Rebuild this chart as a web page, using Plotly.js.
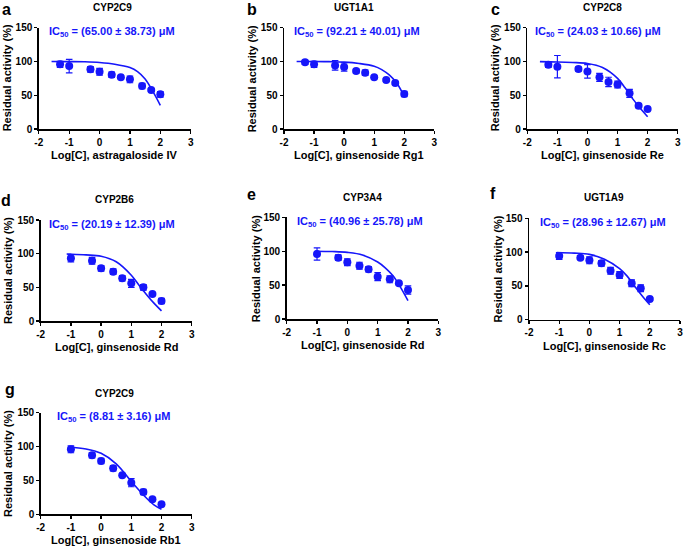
<!DOCTYPE html>
<html>
<head>
<meta charset="utf-8">
<script src="https://cdn.plot.ly/plotly-3.0.1.min.js"></script>
<style>html,body{margin:0;padding:0;background:#fff;}#chart{width:685px;height:549px;}</style>
</head>
<body>
<div id="chart"></div>
<script>
// ---------- data ----------
const xTickVals = [-2, -1, 0, 1, 2, 3];
const xTickText = ['-2', '-1', '0', '1', '2', '3'];
const yTickVals = [0, 50, 100, 150];
const yTickText = ['0', '50', '100', '150'];

const panelLetters = ['a', 'b', 'c', 'd', 'e', 'f', 'g'];
const enzymes = ['CYP2C9', 'UGT1A1', 'CYP2C8', 'CYP2B6', 'CYP3A4', 'UGT1A9', 'CYP2C9'];
const compounds = ['astragaloside IV', 'ginsenoside Rg1', 'ginsenoside Re', 'ginsenoside Rd', 'ginsenoside Rd', 'ginsenoside Rc', 'ginsenoside Rb1'];
const ic50Labels = ['(65.00 ± 38.73)', '(92.21 ± 40.01)', '(24.03 ± 10.66)', '(20.19 ± 12.39)', '(40.96 ± 25.78)', '(28.96 ± 12.67)', '(8.81 ± 3.16)'];

const logC10 = [-1.3, -1, -0.3, 0, 0.4, 0.7, 1, 1.4, 1.7, 2];
const logC9 = [-1, -0.3, 0, 0.4, 0.7, 1, 1.4, 1.7, 2];

const aY = [95.7, 93.2, 88.3, 84.9, 80.4, 76.5, 73.5, 63.6, 57.7, 51.3];
const aErr = [4.4, 10, 4, 5, 4, 2, 5, 4, 2, 4];
const aCurveX = [-1.58, -1, -0.5, 0, 0.5, 1, 1.25, 1.5, 1.75, 2];
const aCurveY = [100, 99.8, 99.5, 98.5, 96, 91, 85, 74, 56, 35];

const bY = [98.7, 95.7, 94.2, 91.8, 85.8, 83.4, 76.5, 72.5, 68, 51.8];
const bErr = [3, 4.4, 7, 6, 3, 4, 2, 2, 2, 4];
const bCurveX = [-1.58, -1, -0.5, 0, 0.5, 1, 1.25, 1.5, 1.75, 2];
const bCurveY = [100, 100, 99.7, 99, 97, 93, 88, 80, 68, 48];

const cY = [95.2, 92.3, 88.8, 85.3, 76.5, 69.6, 66, 52.8, 34.5, 29.6];
const cErr = [4, 16.5, 3, 10, 6, 7, 5, 6, 3, 2];
const cCurveX = [-1.58, -1, -0.5, 0, 0.5, 1, 1.25, 1.5, 1.75, 2];
const cCurveY = [99.7, 99.3, 98.5, 97, 91, 75, 61, 45, 31, 18];

const dY = [93.1, 89.6, 78.2, 73.3, 63.4, 55.9, 50, 40.1, 29.7];
const dErr = [5.4, 5, 4, 4, 4, 6, 4, 2, 4];
const dCurveX = [-1.14, -1, -0.5, 0, 0.5, 1, 1.25, 1.5, 1.75, 2];
const dCurveY = [99.5, 99.3, 98.2, 96.2, 88, 68, 53.5, 39.5, 26.5, 15];

const eY = [95.9, 90.5, 83.6, 78.7, 73.3, 62.5, 58.5, 52.6, 42.8];
const eErr = [9, 4, 5, 5, 4, 6, 5, 2, 6];
const eCurveX = [-1.07, -0.5, 0, 0.5, 1, 1.25, 1.5, 1.75, 2];
const eCurveY = [100, 99.5, 98.3, 94.5, 84, 75.5, 64, 47, 27];

const fY = [94.2, 91.8, 87.8, 83.4, 72.5, 66.1, 53.8, 46.4, 30.6];
const fErr = [5, 2, 5, 4, 5, 5, 5, 5, 2];
const fCurveX = [-1.08, -0.5, 0, 0.5, 1, 1.25, 1.5, 1.75, 2];
const fCurveY = [99.5, 98.5, 96.6, 89.5, 75.5, 64.5, 49.5, 35, 22];

const gY = [95.9, 87.1, 78.7, 67.9, 57.6, 46.7, 33, 22.1, 14.8];
const gErr = [5, 4, 4, 4, 2, 6, 4, 2, 2];
const gCurveX = [-1.08, -0.5, 0, 0.5, 1, 1.25, 1.5, 1.75, 2];
const gCurveY = [99, 96.5, 90, 74.5, 48.5, 36, 24, 14, 7.5];

// ---------- layout geometry (pixels) ----------
const W = 685, H = 549;
const boxes = [ // [x0, x1, yTop, yBottom]
  [38.8, 190.7, 27.7, 129],
  [284, 434.3, 27.7, 129],
  [527.3, 677.7, 27.7, 129],
  [40.7, 191.7, 220, 321],
  [286.7, 438.3, 217.3, 319],
  [529, 680, 218.3, 319.7],
  [40.7, 191.7, 412.7, 514.3]
];
const letterPos = [[6, 10], [252, 9], [495, 9], [6, 201], [252, 195], [493, 193], [10, 389]];
const titlePos = [[112, 7.5], [354, 7.5], [602, 7.5], [114, 199.5], [362, 197], [604, 198], [115, 394]];
const icPos = [[47, 32.3], [291.7, 32.3], [533.3, 32.3], [46.7, 224.5], [295, 221.8], [538.3, 222.8], [55, 417.2]];
const yTitleX = [7, 252, 495, 7.5, 256, 497.5, 7.5];

const pts = [
  [logC10, aY, aErr, aCurveX, aCurveY],
  [logC10, bY, bErr, bCurveX, bCurveY],
  [logC10, cY, cErr, cCurveX, cCurveY],
  [logC9, dY, dErr, dCurveX, dCurveY],
  [logC9, eY, eErr, eCurveX, eCurveY],
  [logC9, fY, fErr, fCurveX, fCurveY],
  [logC9, gY, gErr, gCurveX, gCurveY]
];

const BLUE = 'rgb(22,22,250)';
const FONT = 'Arial, "Liberation Sans", sans-serif';
const px = v => v / W;
const py = v => 1 - v / H;

const traces = [];
const layout = {
  width: W, height: H,
  margin: {l: 0, r: 0, t: 0, b: 0},
  paper_bgcolor: '#fff', plot_bgcolor: '#fff',
  showlegend: false,
  font: {family: FONT, color: '#000'},
  annotations: []
};

pts.forEach((p, i) => {
  const n = i === 0 ? '' : String(i + 1);
  const xa = 'x' + n, ya = 'y' + n;
  traces.push({
    x: p[3], y: p[4], xaxis: xa, yaxis: ya, type: 'scatter', mode: 'lines',
    line: {color: BLUE, width: 1.6, shape: 'spline', smoothing: 1}, hoverinfo: 'skip'
  });
  traces.push({
    x: p[0], y: p[1], xaxis: xa, yaxis: ya, type: 'scatter', mode: 'markers',
    marker: {color: BLUE, size: 8},
    error_y: {type: 'data', array: p[2], visible: true, color: BLUE, thickness: 1.2, width: 3.3},
    cliponaxis: false
  });
  const b = boxes[i];
  const axCommon = {
    showgrid: false, zeroline: false, showline: true, linecolor: '#000', linewidth: 1.5,
    ticks: 'outside', ticklen: 3, tickwidth: 1.3, tickcolor: '#000',
    tickfont: {family: FONT, size: 10, color: '#000', weight: 'bold'},
    fixedrange: true
  };
  layout['xaxis' + n] = Object.assign({}, axCommon, {
    domain: [px(b[0]), px(b[1])], anchor: ya, range: [-2, 3],
    tickmode: 'array', tickvals: xTickVals, ticktext: xTickText
  });
  layout['yaxis' + n] = Object.assign({}, axCommon, {
    domain: [py(b[3]), py(b[2])], anchor: xa, range: [0, 150],
    tickmode: 'array', tickvals: yTickVals, ticktext: yTickText
  });
  const ann = layout.annotations;
  ann.push({text: panelLetters[i], xref: 'paper', yref: 'paper', x: px(letterPos[i][0]), y: py(letterPos[i][1]),
    xanchor: 'center', yanchor: 'middle', showarrow: false, font: {family: FONT, size: 16, weight: 'bold', color: '#000'}});
  ann.push({text: enzymes[i], xref: 'paper', yref: 'paper', x: px(titlePos[i][0]), y: py(titlePos[i][1]),
    xanchor: 'center', yanchor: 'middle', showarrow: false, font: {family: FONT, size: 10, weight: 'bold', color: '#000'}});
  ann.push({text: 'IC<sub>50</sub> = ' + ic50Labels[i] + ' μM', xref: 'paper', yref: 'paper', x: px(icPos[i][0]), y: py(icPos[i][1]),
    xanchor: 'left', yanchor: 'middle', showarrow: false, font: {family: FONT, size: 11, weight: 'bold', color: BLUE}});
  ann.push({text: 'Residual activity (%)', xref: 'paper', yref: 'paper', x: px(yTitleX[i]), y: py((b[2] + b[3]) / 2),
    xanchor: 'center', yanchor: 'middle', textangle: -90, showarrow: false, font: {family: FONT, size: 11, weight: 'bold', color: '#000'}});
  ann.push({text: 'Log[C], ' + compounds[i], xref: 'paper', yref: 'paper', x: px((b[0] + b[1]) / 2), y: py(b[3] + 26),
    xanchor: 'center', yanchor: 'middle', showarrow: false, font: {family: FONT, size: 11, weight: 'bold', color: '#000'}});
});

Plotly.newPlot('chart', traces, layout, {displayModeBar: false, staticPlot: true});
</script>
</body>
</html>
